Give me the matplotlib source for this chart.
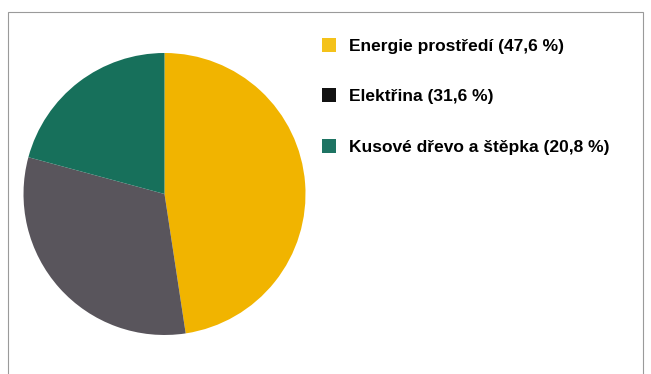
import matplotlib
matplotlib.use("Agg")
import matplotlib.pyplot as plt
from matplotlib.patches import Patch, Rectangle
from matplotlib import font_manager

# podily zdroju energie
labels = ["Energie prostředí (47,6 %)", "Elektřina (31,6 %)", "Kusové dřevo a štěpka (20,8 %)"]
shares = [47.6, 31.6, 20.8]
colors = ["#F1B400", "#59555C", "#17705B"]
legend_colors = ["#F4C21A", "#121212", "#1E7463"]

names = {f.name for f in font_manager.fontManager.ttflist}
family = "Liberation Sans Narrow" if "Liberation Sans Narrow" in names else "Liberation Sans"

fig = plt.figure(figsize=(6.51, 3.74), dpi=100)
fig.patch.set_facecolor("white")

# ramecek grafu
fig.patches.append(Rectangle((8 / 651, -0.05), 635 / 651, 1.05 - 12 / 374,
                             transform=fig.transFigure, fill=False,
                             edgecolor="#9a9a9a", linewidth=0.8))

ax = fig.add_axes([0.0361, 0.1043, 0.4332, 0.754])
ax.pie(shares, colors=colors, startangle=90, counterclock=False, radius=1.0,
       wedgeprops={"linewidth": 0})
ax.set_xlim(-1.0, 1.0)
ax.set_ylim(-1.0, 1.0)
ax.set_aspect("equal")
ax.axis("off")

handles = [Patch(facecolor=c, edgecolor="none") for c in legend_colors]
leg = fig.legend(handles, labels, loc="upper left", bbox_to_anchor=(0.470, 0.941),
                 frameon=False, handlelength=0.85, handleheight=0.85,
                 handletextpad=0.75, labelspacing=2.0,
                 prop={"family": family, "weight": "bold", "size": 12.5})

fig.savefig("out.png", dpi=100)
